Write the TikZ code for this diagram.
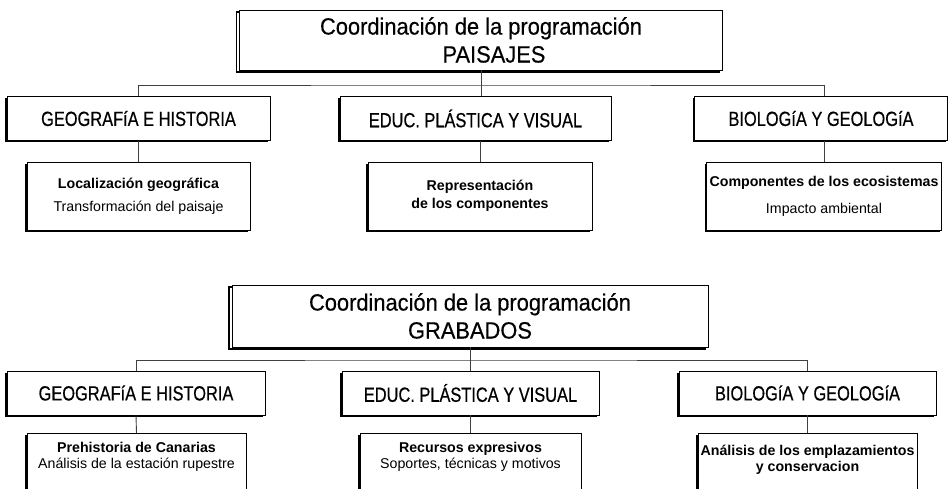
\documentclass[tikz,border=0pt]{standalone}
\usepackage{fontspec}
\setmainfont{Liberation Sans}
\newfontfamily\titlefont{Liberation Sans}[FakeStretch=0.93, FakeBold=0.4]
\newfontfamily\areafont{Liberation Sans}[FakeStretch=0.8, FakeBold=0.5]
\usepackage{tikz}
\usetikzlibrary{shadows}

\begin{document}
\begin{tikzpicture}[
		x=1pt, y=-1pt,
		titlebox/.style={draw, fill=white, line width=0.9pt, align=center,
			font=\titlefont\fontsize{23.5}{28}\selectfont,
			general shadow={draw=black, line width=1.8pt, shadow xshift=-3pt, shadow yshift=-2pt}},
		areabox/.style={draw, fill=white, line width=0.8pt, align=center, minimum height=44pt,
			font=\areafont\fontsize{20.5}{22}\selectfont,
			general shadow={fill=black, shadow xshift=-1.6pt, shadow yshift=-1.6pt}},
		topicbox/.style={draw, fill=white, line width=0.8pt, align=center, minimum height=68pt,
			font=\fontsize{14.2}{17}\selectfont,
			general shadow={fill=black, shadow xshift=-1.6pt, shadow yshift=-1.6pt}},
		topictext/.style={align=center, inner sep=0pt, font=\fontsize{14.2}{16}\selectfont},
		link/.style={draw=black!75, line width=0.9pt}
	]
  \useasboundingbox (0,0) rectangle (948,489);
  \clip (0,0) rectangle (948,489);

  % PAISAJES
  \node (paisT) [titlebox, minimum width=483pt, minimum height=60pt] at (481,40) {Coordinación de la programación\\\hspace{26pt}PAISAJES};
  \node (geoP) [areabox, minimum width=263pt] at (138.5,118.5) {GEOGRAFíA E HISTORIA};
  \node (educP) [areabox, minimum width=271pt] at (475.5,118.5) {EDUC. PLÁSTICA Y VISUAL};
  \node (bioP) [areabox, minimum width=253pt] at (821,118.5) {BIOLOGíA Y GEOLOGíA};
  \node (geoA) [topicbox, minimum width=223pt] at (138.5,196) {\textbf{Localización geográfica}\\[6pt]Transformación del paisaje};
  \node (educA) [topicbox, minimum width=224pt] at (480,196) {\textbf{Representación}\\[1pt]\textbf{de los componentes}};
  \node (bioA) [topicbox, minimum width=230pt] at (824,196) {\textbf{Componentes de los ecosistemas}\\[10pt]Impacto ambiental};
  \coordinate (busP) at (480,85);

  \draw[link] (geoP.north) |- (busP) -| (bioA.north |- bioP.north);
  \draw[link] (paisT.south) -- (paisT.south |- educP.north);
  \draw[link] (geoP.south) -- (geoA.north);
  \draw[link] (educA.north |- educP.south) -- (educA.north);
  \draw[link] (bioA.north |- bioP.south) -- (bioA.north);

  % GRABADOS
  \node (grabT) [titlebox, minimum width=476pt, minimum height=62pt] at (470,316) {Coordinación de la programación\\GRABADOS};
  \node (geoG) [areabox, minimum width=258pt] at (136,393) {GEOGRAFíA E HISTORIA};
  \node (educG) [areabox, minimum width=257pt] at (470.5,393) {EDUC. PLÁSTICA Y VISUAL};
  \node (bioG) [areabox, minimum width=257pt] at (807.5,393) {BIOLOGíA Y GEOLOGíA};
  \node (geoH) [topicbox, minimum width=219pt, anchor=north] at (136.5,433) {};
  \node (educH) [topicbox, minimum width=221pt, anchor=north] at (470.5,433) {};
  \node (bioH) [topicbox, minimum width=219pt, anchor=north] at (807.5,433) {};
  \node (geoHt) [topictext] at ([yshift=-24pt]geoH.north) {\textbf{Prehistoria de Canarias}\\Análisis de la estación rupestre};
  \node (educHt) [topictext] at ([yshift=-24pt]educH.north) {\textbf{Recursos expresivos}\\Soportes, técnicas y motivos};
  \node (bioHt) [topictext] at ([yshift=-27pt]bioH.north) {\textbf{Análisis de los emplazamientos}\\\textbf{y conservacion}};
  \coordinate (busG) at (470,360);

  \draw[link] (geoG.north) |- (busG) -| (bioG.north);
  \draw[link] (grabT.south) -- (grabT.south |- educG.north);
  \draw[link] (geoG.south) -- (geoH.north);
  \draw[link] (educG.south) -- (educH.north);
  \draw[link] (bioG.south) -- (bioH.north);
\end{tikzpicture}
\end{document}
